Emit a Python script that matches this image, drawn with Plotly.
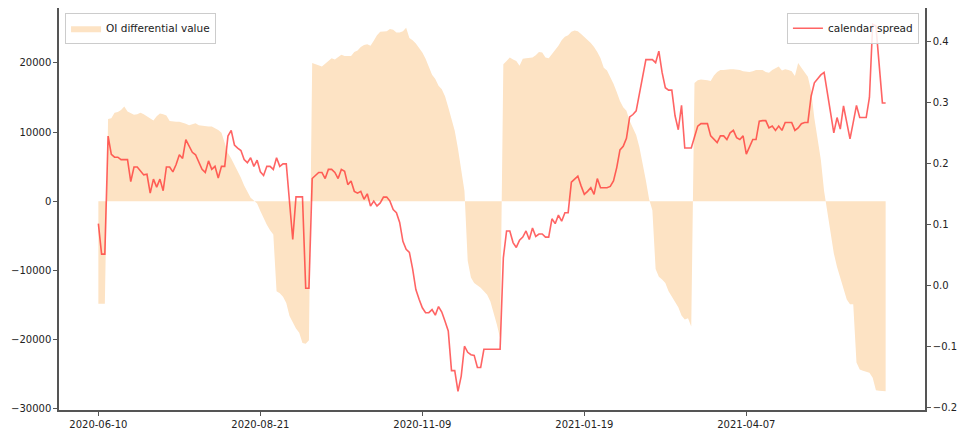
import plotly.graph_objects as go

# ---- data ----
tick_positions = [0, 50, 100, 150, 200]
tick_labels = ["2020-06-10", "2020-08-21", "2020-11-09", "2021-01-19", "2021-04-07"]

oi_diff = [
    -14800, -14800, -14800, 11900, 12000, 12800, 12900, 13200, 13700, 13000,
    12800, 12500, 12600, 12800, 12600, 12300, 12000, 11700, 12300, 12700,
    12600, 12400, 11600, 11500, 11500, 11500, 11400, 11200, 11000, 11200,
    11300, 11000, 10900, 10800, 10800, 10800, 10600, 10300, 9900, 8600,
    7000, 6200, 5300, 4400, 3400, 2300, 1300, 500, 100, -300,
    -1400, -2500, -3400, -4200, -4800, -13000, -13300, -13800, -14700, -16600,
    -17500, -18400, -19000, -20500, -20600, -20100, 20000, 19800, 19600, 19500,
    19900, 20300, 20700, 20500, 20800, 21200, 21000, 21000, 21000, 21600,
    21800, 22300, 22600, 22700, 22500, 23200, 24000, 24500, 24600, 24600,
    24900, 24800, 24400, 24400, 24600, 25100, 23600, 23300, 22800, 22200,
    21500, 20600, 19500, 18300, 17700, 16700, 16200, 15200, 13600, 11800,
    10200, 7600, 4500, 1500, -8600, -11000, -11800, -12100, -12500, -13000,
    -13500, -14500, -16000, -17800, -19800, 19800, 20300, 20800, 20500, 20300,
    19600, 20600, 20700, 20700, 20800, 21100, 21600, 21500, 20800, 20700,
    21300, 21800, 22500, 23300, 23800, 24000, 24500, 24700, 24600, 24200,
    23800, 23300, 22900, 22300, 21600, 20700, 19300, 18900, 18000, 17000,
    15800, 14500, 13600, 13100, 11600, 10600, 9600, 7800, 5600, 3000,
    300, -1300, -9800, -10900, -11300, -11800, -13000, -13800, -14700, -15300,
    -16500, -17100, -16900, -18100, 17100, 17500, 17600, 17600, 17500, 17400,
    18200, 18700, 19000, 19000, 19100, 19100, 19100, 19100, 19000, 18800,
    18700, 18700, 18800, 19000, 19000, 19000, 18700, 18600, 19000, 19300,
    19500, 18900, 19100, 19000, 18800, 18100, 20000, 19300, 18600, 18000,
    16000, 12000, 9000, 6000, 1500, -1500, -4500, -7500, -9500, -11000,
    -12500, -14200, -14900, -14900, -23300, -24300, -24500, -24600, -24800, -25500,
    -27300, -27400, -27450, -27450,
]

calendar_spread = [
    0.102, 0.052, 0.052, 0.2456, 0.2156, 0.211, 0.211, 0.207, 0.207, 0.207,
    0.171, 0.195, 0.195, 0.189, 0.182, 0.183, 0.152, 0.175, 0.162, 0.175,
    0.156, 0.195, 0.195, 0.187, 0.199, 0.215, 0.209, 0.240, 0.229, 0.219,
    0.215, 0.202, 0.191, 0.186, 0.205, 0.191, 0.196, 0.177, 0.196, 0.196,
    0.2456, 0.255, 0.231, 0.226, 0.222, 0.207, 0.202, 0.210, 0.196, 0.206,
    0.187, 0.181, 0.196, 0.196, 0.191, 0.210, 0.196, 0.200, 0.200, 0.138,
    0.076, 0.146, 0.146, 0.146, -0.004, -0.004, 0.176, 0.181, 0.186, 0.186,
    0.176, 0.191, 0.191, 0.186, 0.176, 0.191, 0.188, 0.166, 0.172, 0.155,
    0.152, 0.155, 0.142, 0.151, 0.131, 0.139, 0.131, 0.136, 0.1456, 0.1456,
    0.139, 0.125, 0.120, 0.104, 0.073, 0.060, 0.055, 0.028, -0.006, -0.022,
    -0.036, -0.044, -0.044, -0.039, -0.048, -0.034, -0.043, -0.058, -0.074, -0.139,
    -0.139, -0.173, -0.148, -0.099, -0.109, -0.113, -0.114, -0.134, -0.134, -0.104,
    -0.104, -0.104, -0.104, -0.104, -0.104, 0.046, 0.090, 0.090, 0.071, 0.063,
    0.075, 0.080, 0.090, 0.076, 0.095, 0.081, 0.085, 0.085, 0.080, 0.080,
    0.110, 0.102, 0.116, 0.106, 0.120, 0.120, 0.170, 0.175, 0.180, 0.164,
    0.150, 0.155, 0.161, 0.150, 0.176, 0.161, 0.161, 0.161, 0.163, 0.172,
    0.194, 0.223, 0.229, 0.242, 0.277, 0.281, 0.287, 0.317, 0.347, 0.371,
    0.371, 0.371, 0.366, 0.385, 0.350, 0.325, 0.321, 0.321, 0.279, 0.256,
    0.296, 0.226, 0.226, 0.226, 0.244, 0.262, 0.266, 0.266, 0.266, 0.246,
    0.240, 0.235, 0.246, 0.246, 0.240, 0.251, 0.255, 0.243, 0.240, 0.246,
    0.216, 0.229, 0.240, 0.240, 0.270, 0.271, 0.271, 0.259, 0.262, 0.255,
    0.262, 0.255, 0.268, 0.268, 0.268, 0.255, 0.259, 0.266, 0.268, 0.268,
    0.311, 0.333, 0.340, 0.346, 0.350, 0.314, 0.284, 0.251, 0.276, 0.257,
    0.295, 0.268, 0.241, 0.268, 0.296, 0.276, 0.276, 0.276, 0.309, 0.429,
    0.426, 0.360, 0.300, 0.300,
]

left_ticks = [-30000, -20000, -10000, 0, 10000, 20000]
left_tick_text = ["\u221230000", "\u221220000", "\u221210000", "0", "10000", "20000"]
right_ticks = [-0.2, -0.1, 0.0, 0.1, 0.2, 0.3, 0.4]
right_tick_text = ["\u22120.2", "\u22120.1", "0.0", "0.1", "0.2", "0.3", "0.4"]

idx = list(range(len(oi_diff)))
idx2 = list(range(len(calendar_spread)))

FONT = "DejaVu Sans"
AXIS_COLOR = "#555555"
TEXT_COLOR = "#222222"
FS = 10

fig = go.Figure()
fig.add_trace(go.Scatter(
    x=idx, y=oi_diff, mode="lines", fill="tozeroy",
    line=dict(width=0, color="rgba(253,226,194,1)"),
    fillcolor="rgb(253,227,196)",
    name="OI differential value", legend="legend",
    hoverinfo="skip",
))
fig.add_trace(go.Scatter(
    x=idx2, y=calendar_spread, mode="lines", yaxis="y2",
    line=dict(width=1.6, color="rgba(255,40,40,0.72)"),
    name="calendar spread", legend="legend2",
))

n = len(oi_diff) - 1
axis_common = dict(
    showgrid=False, zeroline=False, automargin=False,
    showline=True, linecolor=AXIS_COLOR, linewidth=1.5,
    ticks="outside", ticklen=4, tickcolor=AXIS_COLOR, tickwidth=1,
    tickfont=dict(family=FONT, size=FS, color=TEXT_COLOR),
)
fig.update_layout(
    width=959, height=433,
    margin=dict(l=59, r=34, t=8, b=23, autoexpand=False),
    paper_bgcolor="white", plot_bgcolor="white",
    font=dict(family=FONT, size=FS, color=TEXT_COLOR),
    xaxis=dict(
        range=[-0.05 * n, 1.05 * n],
        tickvals=tick_positions, ticktext=tick_labels,
        **axis_common,
    ),
    yaxis=dict(
        range=[-30173, 27948],
        tickvals=left_ticks, ticktext=left_tick_text,
        **axis_common,
    ),
    yaxis2=dict(
        range=[-0.2036, 0.4557],
        overlaying="y", side="right",
        tickvals=right_ticks, ticktext=right_tick_text,
        **axis_common,
    ),
    legend=dict(
        x=0.007, y=0.988, xanchor="left", yanchor="top",
        bgcolor="rgba(255,255,255,0.85)", bordercolor="#cccccc", borderwidth=1,
        font=dict(family=FONT, size=10.5, color=TEXT_COLOR),
        itemwidth=30,
    ),
    legend2=dict(
        x=0.993, y=0.988, xanchor="right", yanchor="top",
        bgcolor="rgba(255,255,255,0.85)", bordercolor="#cccccc", borderwidth=1,
        font=dict(family=FONT, size=10.5, color=TEXT_COLOR),
        itemwidth=30,
    ),
    showlegend=True,
)

fig.write_html(
    "out.html",
    config={"displayModeBar": False},
    post_script="document.body.style.margin='0';document.body.style.overflow='hidden';",
)
